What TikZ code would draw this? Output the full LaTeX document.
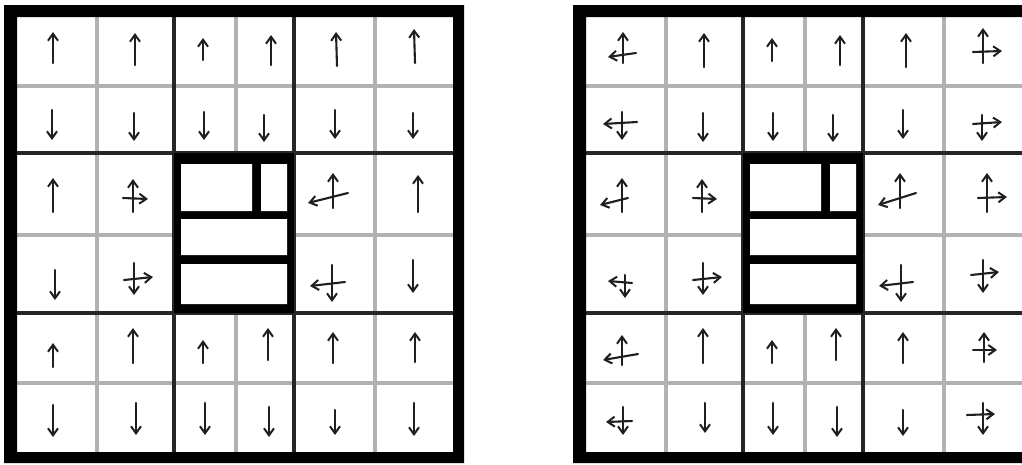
\documentclass[tikz,border=0pt]{standalone}
\usetikzlibrary{arrows.meta}
\begin{document}
\begin{tikzpicture}[x=1pt,y=-1pt,
  gridthin/.style={draw=black!30,line width=3.2pt},
  griddark/.style={draw=black!85,line width=3.4pt},
  hand/.style={draw=black!88,line width=2.1pt,line cap=round,-{Straight Barb[length=7pt,width=10pt,line width=2pt]}}]
\fill[white] (0,0) rectangle (1022,464);
\useasboundingbox (0,0) rectangle (1022,464);
\foreach \ox in {0,569}{
\begin{scope}[shift={(\ox,0)}]
  \draw[gridthin] (97,17) -- (97,452) (375,17) -- (375,452)
    (236,17) -- (236,153) (236,313) -- (236,452)
    (17,86) -- (453,86) (17,383) -- (453,383)
    (17,235) -- (174,235) (294,235) -- (453,235);
  \draw[griddark] (174,17) -- (174,452) (294,17) -- (294,452)
    (17,153) -- (453,153) (17,313) -- (453,313);
  \fill[black] (174,153) rectangle (294,313);
  \fill[white] (181,164) rectangle (252,211) (261,164) rectangle (287,211)
    (181,219) rectangle (287,255) (181,264) rectangle (287,304);
  \fill[black,even odd rule] (4,5) rectangle (464,463) (17,17) rectangle (453,452);
\end{scope}
}
% left grid arrows
\draw[hand] (53,63) -- (53,32);
\draw[hand] (135,65) -- (135,33);
\draw[hand] (203,60) -- (203,38);
\draw[hand] (271,65) -- (271,35);
\draw[hand] (337,66) -- (336,32);
\draw[hand] (415,63) -- (414,29);
\draw[hand] (52,110) -- (52,140);
\draw[hand] (134,113) -- (134,141);
\draw[hand] (204,112) -- (204,140);
\draw[hand] (264,115) -- (264,142);
\draw[hand] (335,110) -- (335,139);
\draw[hand] (413,113) -- (413,139);
\draw[hand] (53,212) -- (53,178);
\draw[hand] (133,212) -- (133,179);
\draw[hand] (123,198) -- (148,199);
\draw[hand] (333,208) -- (333,173);
\draw[hand] (348,193) -- (308,203);
\draw[hand] (418,212) -- (418,175);
\draw[hand] (55,270) -- (55,300);
\draw[hand] (134,263) -- (134,295);
\draw[hand] (124,280) -- (153,277);
\draw[hand] (332,265) -- (332,302);
\draw[hand] (345,282) -- (310,286);
\draw[hand] (413,260) -- (413,293);
\draw[hand] (53,367) -- (53,343);
\draw[hand] (133,363) -- (133,328);
\draw[hand] (203,363) -- (203,340);
\draw[hand] (268,360) -- (268,328);
\draw[hand] (333,363) -- (333,332);
\draw[hand] (415,362) -- (415,332);
\draw[hand] (53,405) -- (53,437);
\draw[hand] (136,403) -- (136,435);
\draw[hand] (205,403) -- (205,435);
\draw[hand] (269,407) -- (269,437);
\draw[hand] (335,410) -- (335,435);
\draw[hand] (414,403) -- (414,436);
% right grid arrows
\draw[hand] (623,63) -- (623,32);
\draw[hand] (636,53) -- (608,57);
\draw[hand] (704,67) -- (704,33);
\draw[hand] (772,61) -- (772,38);
\draw[hand] (840,65) -- (840,35);
\draw[hand] (906,67) -- (906,33);
\draw[hand] (983,63) -- (983,28);
\draw[hand] (973,52) -- (1002,51);
\draw[hand] (622,112) -- (622,140);
\draw[hand] (637,122) -- (603,124);
\draw[hand] (703,113) -- (703,142);
\draw[hand] (773,113) -- (773,141);
\draw[hand] (833,115) -- (833,142);
\draw[hand] (903,110) -- (903,139);
\draw[hand] (982,115) -- (982,141);
\draw[hand] (973,124) -- (1002,122);
\draw[hand] (622,212) -- (622,178);
\draw[hand] (628,198) -- (600,205);
\draw[hand] (702,212) -- (702,179);
\draw[hand] (693,198) -- (717,199);
\draw[hand] (900,208) -- (900,173);
\draw[hand] (916,193) -- (878,205);
\draw[hand] (987,212) -- (987,173);
\draw[hand] (978,198) -- (1007,197);
\draw[hand] (625,275) -- (625,298);
\draw[hand] (632,283) -- (608,281);
\draw[hand] (703,263) -- (703,295);
\draw[hand] (693,280) -- (722,277);
\draw[hand] (901,265) -- (901,302);
\draw[hand] (913,282) -- (879,286);
\draw[hand] (983,260) -- (983,293);
\draw[hand] (971,275) -- (999,272);
\draw[hand] (622,365) -- (622,335);
\draw[hand] (638,354) -- (603,360);
\draw[hand] (703,363) -- (703,328);
\draw[hand] (772,363) -- (772,340);
\draw[hand] (836,360) -- (836,328);
\draw[hand] (903,363) -- (903,332);
\draw[hand] (984,362) -- (984,332);
\draw[hand] (973,350) -- (997,350);
\draw[hand] (623,407) -- (623,435);
\draw[hand] (632,421) -- (606,422);
\draw[hand] (705,403) -- (705,433);
\draw[hand] (773,403) -- (773,435);
\draw[hand] (837,407) -- (837,437);
\draw[hand] (903,410) -- (903,436);
\draw[hand] (983,403) -- (983,435);
\draw[hand] (967,415) -- (995,414);
\end{tikzpicture}
\end{document}
